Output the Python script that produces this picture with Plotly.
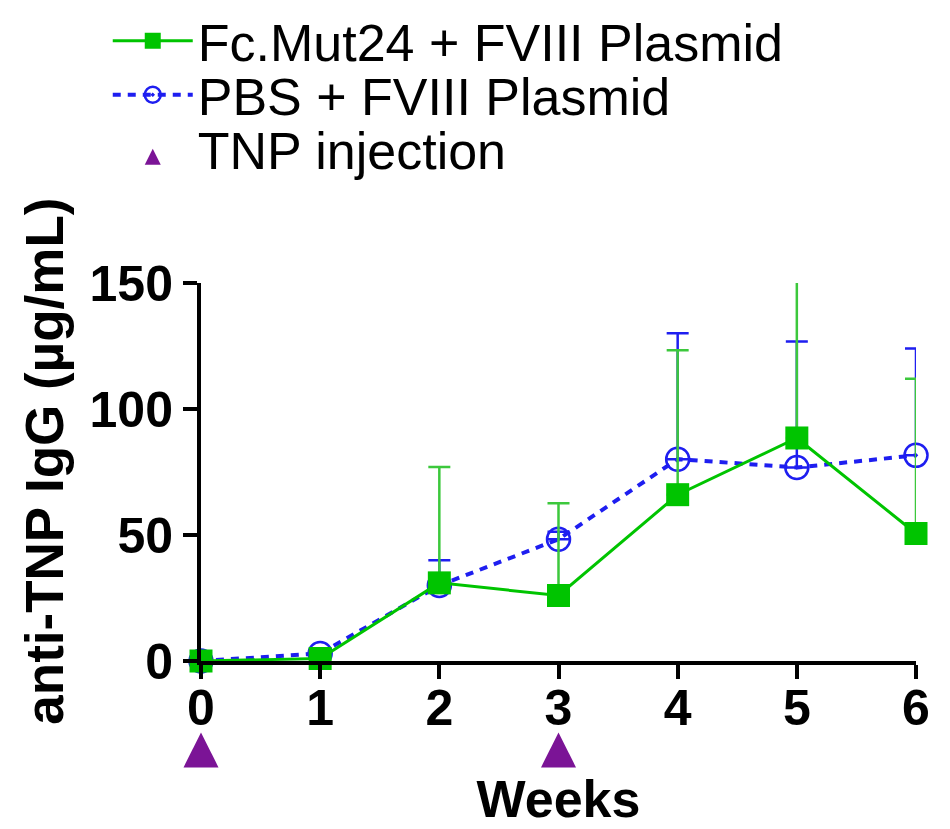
import plotly.graph_objects as go

weeks = [0, 1, 2, 3, 4, 5, 6]
week_labels = ["0", "1", "2", "3", "4", "5", "6"]

fc_mean = [0, 1, 31, 26, 66, 88.5, 50.6]
fc_err_up = [0, 0, 46, 36.6, 57.3, 62, 61.4]

pbs_mean = [0, 3, 30, 48.3, 80.1, 76.8, 81.6]
pbs_err_up = [0, 0, 10, 3, 50, 50, 42.4]

tnp_weeks = [0, 3]
tnp_level = [0.95, 0.95]

y_ticks = [0, 50, 100, 150]

GREEN = "#00C400"
GREEN_ERR = "#3CC83C"
BLUE = "#1E1EF0"
PURPLE = "#7B1496"
FONT = "Arial, Liberation Sans, sans-serif"

H = 829
MB = 40
MT = 275
plot_h = H - MT - MB
y_main_bottom = (H - MB - 653) / plot_h

fig = go.Figure()

fig.add_trace(go.Scatter(
    x=weeks, y=pbs_mean, name="PBS + FVIII Plasmid", mode="lines+markers",
    line=dict(color=BLUE, width=4, dash="8px,7px"),
    marker=dict(symbol="circle-open-dot", size=23, color=BLUE, line=dict(width=2.5, color=BLUE)),
    error_y=dict(type="data", array=pbs_err_up, arrayminus=[0]*7, symmetric=False,
                 color=BLUE, thickness=2.5, width=11),
    cliponaxis=False, legend="legend2", showlegend=True,
))

fig.add_trace(go.Scatter(
    x=weeks, y=fc_mean, name="Fc.Mut24 + FVIII Plasmid", mode="lines+markers",
    line=dict(color=GREEN, width=3),
    marker=dict(symbol="square", size=23, color=GREEN),
    error_y=dict(type="data", array=fc_err_up, arrayminus=[0]*7, symmetric=False,
                 color=GREEN_ERR, thickness=2.5, width=11),
    cliponaxis=False, legend="legend", showlegend=True,
))

fig.add_trace(go.Scatter(
    x=tnp_weeks, y=tnp_level, name="TNP injection", mode="markers",
    xaxis="x", yaxis="y2",
    marker=dict(symbol="arrow-up", size=35, color=PURPLE),
    cliponaxis=False, legend="legend3", showlegend=True,
))

leg_common = dict(xref="container", yref="container", x=0.105, xanchor="left",
                  yanchor="middle", font=dict(family=FONT, size=52, color="black"),
                  itemwidth=80, bgcolor="rgba(0,0,0,0)")

fig.update_layout(
    width=950, height=H,
    showlegend=True,
    margin=dict(l=193, r=42, t=MT, b=MB, autoexpand=False),
    paper_bgcolor="white", plot_bgcolor="white",
    font=dict(family=FONT, color="black"),
    legend=dict(y=1 - 33/H, **leg_common),
    legend2=dict(y=1 - 87/H, **leg_common),
    legend3=dict(y=1 - 141/H, **leg_common),
    xaxis=dict(
        range=[0, 6], tickvals=weeks, ticktext=week_labels, anchor="y",
        showgrid=False, zeroline=False, showline=True, linecolor="black", linewidth=4,
        ticks="outside", ticklen=14, tickwidth=4, tickcolor="black",
        tickfont=dict(family=FONT, size=50, color="black", weight="bold"),
        ticklabelstandoff=-14,
        title=dict(text="<b>Weeks</b>", font=dict(family=FONT, size=52, color="black"), standoff=47),
        automargin=True,
    ),
    yaxis=dict(
        range=[0, 150], tickvals=y_ticks, domain=[y_main_bottom, 1],
        showgrid=False, zeroline=False, showline=True, linecolor="black", linewidth=4,
        ticks="outside", ticklen=14, tickwidth=4, tickcolor="black",
        tickfont=dict(family=FONT, size=50, color="black", weight="bold"),
        automargin=True,
    ),
    yaxis2=dict(
        domain=[0, y_main_bottom], range=[0, 2], anchor="x",
        visible=False, showgrid=False, zeroline=False,
    ),
    annotations=[dict(
        text="<b>anti-TNP IgG (µg/mL)</b>", textangle=-90,
        xref="paper", yref="paper", x=(37 - 193) / 715, y=(y_main_bottom + 1) / 2 + 0.02,
        xanchor="center", yanchor="middle", showarrow=False,
        font=dict(family=FONT, size=53, color="black"),
    )],
)

fig.write_html("out.html")
